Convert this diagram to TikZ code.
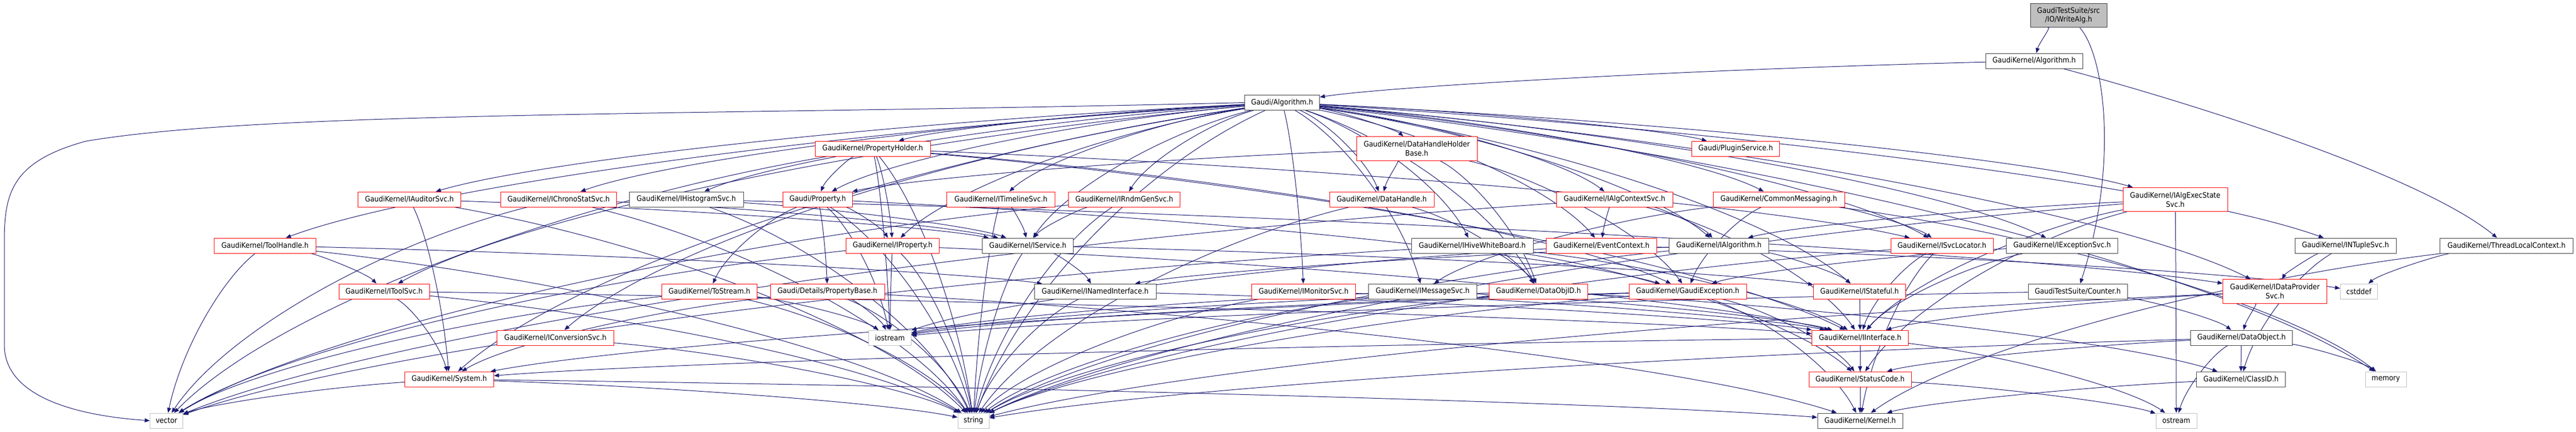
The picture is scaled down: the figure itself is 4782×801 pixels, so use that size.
\documentclass[tikz,border=0pt]{standalone}
\usepackage{fontspec}
\setmainfont{DejaVu Sans}[FakeStretch=0.9]
\usetikzlibrary{arrows.meta,calc}
\definecolor{mnblue}{HTML}{191970}
\definecolor{sysgray}{HTML}{BFBFBF}
\definecolor{nred}{HTML}{FF0000}
\pgfdeclarelayer{bg}
\pgfsetlayers{bg,main}
\tikzset{
  nd/.style={draw, line width=0.75pt, font=\fontsize{10.5}{12.5}\selectfont, inner xsep=2pt, inner ysep=0pt, minimum height=21pt, align=center, fill=white},
  rn/.style={nd, draw=nred},
  bn/.style={nd, draw=black!75},
  gn/.style={nd, draw=sysgray},
  tn/.style={nd, draw=black!75, fill=sysgray},
  w/.style={minimum width=#1*0.75pt},
  tall/.style={minimum height=33.5pt},
  ed/.style={draw=mnblue, line width=0.75pt, -{Triangle[length=7pt,width=5.5pt]}},
}
\begin{document}
\begin{tikzpicture}[x=0.75pt,y=-0.75pt]
\useasboundingbox (0,0) rectangle (4782,801);
% rank 0-2
\node[tn,w=142,tall] (wa) at (3840,28.5) {GaudiTestSuite/src\\/IO/WriteAlg.h};
\node[bn,w=180] (galg) at (3776,113) {GaudiKernel/Algorithm.h};
\node[bn,w=139] (alg) at (2380,190.5) {Gaudi/Algorithm.h};
% rank 3
\node[rn,w=214] (pholder) at (1620,276) {GaudiKernel/PropertyHolder.h};
\node[rn,w=224,tall] (dhhb) at (2630,276) {GaudiKernel/DataHandleHolder\\Base.h};
\node[rn,w=163] (plugin) at (3222,276) {Gaudi/PluginService.h};
% rank 4
\node[rn,w=191] (iaud) at (760,370) {GaudiKernel/IAuditorSvc.h};
\node[rn,w=215] (ichrono) at (1037,370) {GaudiKernel/IChronoStatSvc.h};
\node[bn,w=212] (ihist) at (1274,370) {GaudiKernel/IHistogramSvc.h};
\node[rn,w=129] (prop) at (1518,370) {Gaudi/Property.h};
\node[rn,w=201] (itimeline) at (1858,370) {GaudiKernel/ITimelineSvc.h};
\node[rn,w=207] (irndm) at (2087,370) {GaudiKernel/IRndmGenSvc.h};
\node[rn,w=194] (dh) at (2565,370) {GaudiKernel/DataHandle.h};
\node[rn,w=216] (ialgctx) at (2997,370) {GaudiKernel/IAlgContextSvc.h};
\node[rn,w=244] (cmsg) at (3302,370) {GaudiKernel/CommonMessaging.h};
\node[rn,w=194,tall] (iaexec) at (4038,370.5) {GaudiKernel/IAlgExecState\\Svc.h};
% rank 5
\node[rn,w=189] (toolh) at (492,456) {GaudiKernel/ToolHandle.h};
\node[rn,w=173] (iprop) at (1657,456) {GaudiKernel/IProperty.h};
\node[bn,w=169] (isvc) at (1908,456) {GaudiKernel/IService.h};
\node[bn,w=226] (ihive) at (2733,456) {GaudiKernel/IHiveWhiteBoard.h};
\node[rn,w=205] (evctx) at (2973,456) {GaudiKernel/EventContext.h};
\node[bn,w=185] (ialg) at (3191,456) {GaudiKernel/IAlgorithm.h};
\node[rn,w=190] (isvcloc) at (3605,456) {GaudiKernel/ISvcLocator.h};
\node[bn,w=207] (iexc) at (3828,456) {GaudiKernel/IExceptionSvc.h};
\node[bn,w=188] (intuple) at (4354,456) {GaudiKernel/INTupleSvc.h};
\node[bn,w=247] (tlc) at (4653,456) {GaudiKernel/ThreadLocalContext.h};
% rank 6
\node[rn,w=168] (itoolsvc) at (713,541) {GaudiKernel/IToolSvc.h};
\node[rn,w=177] (tostream) at (1317,541) {GaudiKernel/ToStream.h};
\node[rn,w=212] (pbase) at (1536,541) {Gaudi/Details/PropertyBase.h};
\node[bn,w=226] (inamed) at (2033,541) {GaudiKernel/INamedInterface.h};
\node[rn,w=193] (imon) at (2420,541) {GaudiKernel/IMonitorSvc.h};
\node[bn,w=201] (imsg) at (2641,541) {GaudiKernel/IMessageSvc.h};
\node[rn,w=183] (dobjid) at (2856,541) {GaudiKernel/DataObjID.h};
\node[rn,w=218] (gexc) at (3133,541) {GaudiKernel/GaudiException.h};
\node[rn,w=171] (istateful) at (3452,541) {GaudiKernel/IStateful.h};
\node[bn,w=184] (counter) at (3857,541) {GaudiTestSuite/Counter.h};
\node[rn,w=193,tall] (idps) at (4223,541) {GaudiKernel/IDataProvider\\Svc.h};
\node[gn,w=69] (cstddef) at (4379,541) {cstddef};
% rank 7
\node[rn,w=217] (iconv) at (1031,627) {GaudiKernel/IConversionSvc.h};
\node[gn,w=79] (iostream) at (1652,627) {iostream};
\node[rn,w=179] (iint) at (3453,627) {GaudiKernel/IInterface.h};
\node[bn,w=189] (dobj) at (4161,627) {GaudiKernel/DataObject.h};
% rank 8
\node[rn,w=165] (system) at (834,704) {GaudiKernel/System.h};
\node[rn,w=190] (sc) at (3453,704) {GaudiKernel/StatusCode.h};
\node[bn,w=165] (classid) at (4160,704) {GaudiKernel/ClassID.h};
\node[gn,w=76] (memory) at (4429,704) {memory};
% rank 9
\node[gn,w=61] (vector) at (309,781) {vector};
\node[gn,w=58] (string) at (1807,781) {string};
\node[bn,w=158] (kernel) at (3453,781) {GaudiKernel/Kernel.h};
\node[gn,w=76] (ostream) at (4040,781) {ostream};

\begin{pgfonlayer}{bg}
\draw[ed] (wa) .. controls (3905,100) and (3935,300) .. (counter);
\draw[ed] (galg) .. controls (4100,200) and (4500,330) .. (tlc);
\draw[ed] (alg.west) .. controls (1300,215) and (500,205) .. (160,262) .. controls (20,300) and (8,360) .. (8,450) -- (8,640) .. controls (8,740) and (150,772) .. (vector.west);
\foreach \a/\b in {
 wa/galg, galg/alg,
 alg/pholder, alg/dhhb, alg/plugin, alg/iaud, alg/ichrono, alg/ihist, alg/prop, alg/itimeline, alg/irndm, alg/dh, alg/ialgctx, alg/cmsg, alg/iaexec, alg/toolh, alg/iprop, alg/isvc, alg/ihive, alg/evctx, alg/ialg, alg/isvcloc, alg/iexc, alg/intuple, alg/itoolsvc, alg/imon, alg/imsg, alg/dobjid, alg/istateful, alg/idps, alg/iconv, alg/system, alg/string, alg/memory,
 pholder/prop, pholder/iprop, pholder/isvcloc, pholder/gexc, pholder/iint, pholder/iostream, pholder/string, pholder/vector,
 dhhb/dh, dhhb/dobjid, dhhb/gexc, dhhb/prop,
 iaud/isvc, iaud/system, iaud/string,
 ichrono/isvc, ichrono/string, ichrono/vector,
 ihist/isvc, ihist/idps, ihist/string,
 prop/pbase, prop/iprop, prop/tostream, prop/string, prop/iostream, prop/gexc,
 itimeline/isvc, itimeline/string,
 irndm/isvc, irndm/string, irndm/vector,
 dh/dobjid, dh/string,
 ialgctx/ialg, ialgctx/evctx, ialgctx/iint, ialgctx/vector,
 cmsg/imsg, cmsg/isvcloc, cmsg/gexc, cmsg/memory,
 iaexec/ialg, iaexec/iint, iaexec/sc, iaexec/string, iaexec/ostream,
 toolh/itoolsvc, toolh/inamed, toolh/vector, toolh/string,
 iprop/iint, iprop/iostream, iprop/string, iprop/vector,
 isvc/inamed, isvc/istateful, isvc/string,
 ihive/dobjid, ihive/iint, ihive/sc, ihive/vector,
 evctx/cstddef, evctx/iostream,
 ialg/istateful, ialg/inamed, ialg/string,
 isvcloc/iint, isvcloc/kernel, isvcloc/string,
 iexc/gexc, iexc/iint,
 intuple/idps, intuple/classid,
 tlc/cstddef, tlc/kernel,
 itoolsvc/system, itoolsvc/string, itoolsvc/iint,
 tostream/vector, tostream/iostream, tostream/string,
 pbase/system, pbase/iostream, pbase/string, pbase/kernel,
 inamed/iint, inamed/string,
 imon/iint, imon/string,
 imsg/iint, imsg/iostream, imsg/string,
 dobjid/classid, dobjid/iostream, dobjid/string,
 gexc/sc, gexc/kernel, gexc/system, gexc/iostream, gexc/string,
 istateful/iint,
 counter/dobj, counter/iostream,
 idps/dobj, idps/iint, idps/string,
 iconv/string,
 iint/sc, iint/kernel, iint/system, iint/ostream,
 dobj/classid, dobj/sc, dobj/memory, dobj/ostream, dobj/string,
 system/vector, system/string, system/kernel,
 sc/kernel, sc/ostream,
 classid/kernel}
 \draw[ed] let \p1=(\a), \p2=(\b) in (\a) .. controls ({\x1+0.45*(\x2-\x1)},{\y1+0.2*(\y2-\y1)}) and ({\x2+0.15*(\x1-\x2)},{\y1+0.6*(\y2-\y1)}) .. (\b);
\end{pgfonlayer}
\end{tikzpicture}
\end{document}
